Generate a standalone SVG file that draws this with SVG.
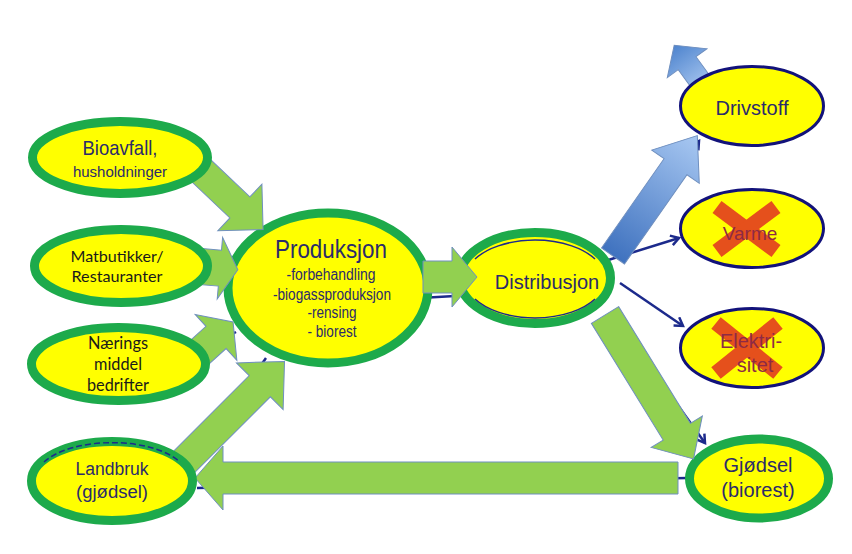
<svg xmlns="http://www.w3.org/2000/svg" width="852" height="554" viewBox="0 0 852 554">
<defs>
<style>
.ring{fill:#FFFF00;stroke:#1DAA4B;stroke-width:9}
.blue{fill:#FFFF00;stroke:#12127A;stroke-width:3}
.ga{fill:#92D050;stroke:#6F8FBF;stroke-width:1}
.nv{fill:none;stroke:#1C2A8C;stroke-width:2.5}
.t{font-family:"Liberation Sans",Arial,sans-serif;fill:#2B2B6B;text-anchor:middle}
.c{font-family:Lato,"Noto Sans",sans-serif;fill:#1A1A1A;text-anchor:middle}
.x{stroke:#E5501C;stroke-width:15}
.xt{fill:#8E2A45}
</style>
<marker id="chev" markerUnits="userSpaceOnUse" markerWidth="14" markerHeight="14" refX="10" refY="6" orient="auto">
<path d="M2,1 L10,6 L2,11" fill="none" stroke="#1C2A8C" stroke-width="2.5"/>
</marker>
<linearGradient id="gb1" gradientUnits="userSpaceOnUse" x1="0" y1="0" x2="147" y2="0">
<stop offset="0" stop-color="#3F72BF"/><stop offset="1" stop-color="#A8C8F2"/>
</linearGradient>
<linearGradient id="gb2" gradientUnits="userSpaceOnUse" x1="0" y1="0" x2="49" y2="0">
<stop offset="0" stop-color="#A3C3EE"/><stop offset="1" stop-color="#4E84CE"/>
</linearGradient>
</defs>
<rect width="852" height="554" fill="#FFFFFF"/>

<g id="connector-lines">
<line class="nv" x1="605" y1="261" x2="679" y2="238" marker-end="url(#chev)"/>
<line class="nv" x1="620" y1="283" x2="683" y2="326" marker-end="url(#chev)"/>
<line class="nv" x1="615" y1="318" x2="705" y2="443" marker-end="url(#chev)"/>
<line class="nv" x1="687" y1="478" x2="197" y2="488"/>
<line class="nv" x1="420" y1="298" x2="455" y2="296"/>
<line class="nv" x1="620" y1="250" x2="699" y2="141" marker-end="url(#chev)"/>
<line class="nv" x1="200" y1="352" x2="236" y2="332"/>
<line class="nv" x1="195" y1="458" x2="266" y2="358"/>
<line class="nv" x1="205" y1="276" x2="226" y2="276"/>
</g>

<g id="produksjon">
<ellipse cx="328" cy="288" rx="100" ry="75" class="ring" stroke-width="10"/>
<text class="t" x="331" y="258" font-size="25" textLength="112" lengthAdjust="spacingAndGlyphs">Produksjon</text>
<text class="t" x="331" y="280" font-size="16" textLength="89" lengthAdjust="spacingAndGlyphs">-forbehandling</text>
<text class="t" x="332" y="300" font-size="16" textLength="118" lengthAdjust="spacingAndGlyphs">-biogassproduksjon</text>
<text class="t" x="332" y="318" font-size="16" textLength="49" lengthAdjust="spacingAndGlyphs">-rensing</text>
<text class="t" x="332" y="337" font-size="16" textLength="49" lengthAdjust="spacingAndGlyphs">- biorest</text>
</g>

<g id="distribusjon">
<ellipse cx="535" cy="278" rx="75.5" ry="45.5" class="ring"/>
<path d="M475,259 A70,39 0 0 1 595,259 M475,299 A70,39 0 0 0 595,299" fill="none" stroke="#1C2A8C" stroke-width="1.5"/>
<text class="t" x="547" y="289" font-size="20">Distribusjon</text>
</g>

<g id="gjodsel">
<ellipse cx="759" cy="478.5" rx="69.5" ry="39.5" class="ring"/>
<text class="t" x="758" y="472" font-size="20">Gjødsel</text>
<text class="t" x="758" y="497" font-size="20">(biorest)</text>
</g>

<g id="block-arrows">
<path class="ga" transform="translate(192,162) rotate(43.5)" d="M0,-14.5 H66 V-32 L98,0 L66,32 V14.5 H0 Z"/>
<path class="ga" transform="translate(195,266) rotate(5)" d="M0,-18 H25 V-31 L43,0 L25,31 V18 H0 Z"/>
<path class="ga" transform="translate(186.4,364.3) rotate(-42.2)" d="M0,-15 H40 V-31 L63,0 L40,31 V15 H0 Z"/>
<path class="ga" transform="translate(182,464) rotate(-45)" d="M0,-15 H110 V-33 L145,0 L110,33 V15 H0 Z"/>
<path class="ga" transform="translate(423,277)" d="M0,-16 H29 V-30 L54,0 L29,30 V16 H0 Z"/>
<path class="ga" transform="translate(605,315) rotate(58.4)" d="M0,-16 H137 V-30 L169,0 L137,30 V16 H0 Z"/>
<path class="ga" d="M678,462 H223 V446 L195,478 L223,510 V494 H678 Z"/>
<path fill="url(#gb1)" stroke="#6F8FBF" stroke-width="1" transform="translate(613,256) rotate(-55)" d="M0,-14 H109 V-29 L147,0 L109,29 V14 H0 Z"/>
<path fill="url(#gb2)" stroke="#6F8FBF" stroke-width="1" transform="translate(703,85) rotate(-126)" d="M0,-11 H27 V-24.5 L49,0 L27,24.5 V11 H0 Z"/>
</g>

<g id="bioavfall">
<ellipse cx="120" cy="157.5" rx="87.5" ry="36" class="ring"/>
<text class="t" x="120" y="155" font-size="21" textLength="75" lengthAdjust="spacingAndGlyphs">Bioavfall,</text>
<text class="t" x="120" y="177" font-size="15">husholdninger</text>
</g>

<g id="matbutikker">
<ellipse cx="121" cy="266" rx="86.5" ry="36.5" class="ring"/>
<text class="c" x="117" y="262" font-size="16" textLength="93" lengthAdjust="spacingAndGlyphs">Matbutikker/</text>
<text class="c" x="117" y="282" font-size="16" textLength="91" lengthAdjust="spacingAndGlyphs">Restauranter</text>
</g>

<g id="naerings">
<ellipse cx="118.5" cy="364" rx="87" ry="36.5" class="ring"/>
<text class="c" x="118" y="349" font-size="17" textLength="60" lengthAdjust="spacingAndGlyphs">Nærings</text>
<text class="c" x="118" y="370" font-size="17" textLength="48" lengthAdjust="spacingAndGlyphs">middel</text>
<text class="c" x="118" y="391" font-size="17" textLength="62" lengthAdjust="spacingAndGlyphs">bedrifter</text>
</g>

<g id="landbruk">
<ellipse cx="112" cy="481" rx="80.5" ry="39.5" class="ring"/>
<path d="M44,462 A76,35 0 0 1 180,462" fill="none" stroke="#1C2A8C" stroke-width="1.5" stroke-dasharray="6,3"/>
<text class="t" x="112" y="475" font-size="18" textLength="73" lengthAdjust="spacingAndGlyphs">Landbruk</text>
<text class="t" x="112" y="498" font-size="18" textLength="72" lengthAdjust="spacingAndGlyphs">(gjødsel)</text>
</g>

<g id="drivstoff">
<ellipse cx="752" cy="106" rx="71.5" ry="39.5" class="blue"/>
<text class="t" x="752" y="115" font-size="20">Drivstoff</text>
</g>

<g id="varme">
<ellipse cx="752" cy="228.5" rx="71.5" ry="39" class="blue"/>
<line class="x" x1="717" y1="207" x2="776" y2="251"/>
<line class="x" x1="776" y1="207" x2="717" y2="251"/>
<text class="t xt" x="750" y="240" font-size="19">Varme</text>
</g>

<g id="elektrisitet">
<ellipse cx="752" cy="348" rx="71.5" ry="39.5" class="blue"/>
<line class="x" x1="716" y1="323" x2="778" y2="373"/>
<line class="x" x1="778" y1="323" x2="716" y2="373"/>
<text class="t xt" x="751" y="348" font-size="20">Elektri-</text>
<text class="t xt" x="755" y="372" font-size="20">sitet</text>
</g>
</svg>
